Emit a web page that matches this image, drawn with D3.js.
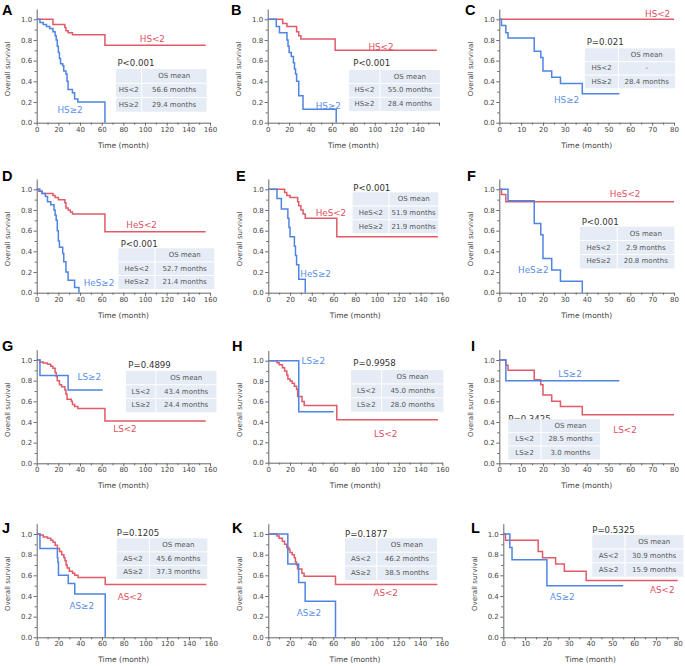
<!DOCTYPE html>
<html><head><meta charset="utf-8">
<script src="https://cdn.jsdelivr.net/npm/d3@7/dist/d3.min.js"></script>
<style>body{margin:0;background:#fff}svg{display:block}</style>
</head><body><svg id="c" width="685" height="666"></svg>
<script>
// ---------------- DATA ----------------
const panelIds = ["A","B","C","D","E","F","G","H","I","J","K","L"];
const xMaxes = [160,160,80,160,160,80,160,160,80,160,160,80];
const groupLow  = ["HS<2","HS<2","HS<2","HeS<2","HeS<2","HeS<2","LS<2","LS<2","LS<2","AS<2","AS<2","AS<2"];
const groupHigh = ["HS≥2","HS≥2","HS≥2","HeS≥2","HeS≥2","HeS≥2","LS≥2","LS≥2","LS≥2","AS≥2","AS≥2","AS≥2"];
const pValues = ["P<0.001","P<0.001","P=0.021","P<0.001","P<0.001","P<0.001","P=0.4899","P=0.9958","P=0.3425","P=0.1205","P=0.1877","P=0.5325"];
const meanLow  = ["56.6","55.0","-","52.7","51.9","2.9","43.4","45.0","28.5","45.6","46.2","30.9"];
const meanHigh = ["29.4","28.4","28.4","21.4","21.9","20.8","24.4","28.0","3.0","37.3","38.5","15.9"];
const tableHeader = "OS mean";
const yTicks = [0,0.2,0.4,0.6,0.8,1.0];

// survival curves: [time (month), survival after that time]; last point = end of follow-up
const A_low  = [[0,1],[15,0.95],[26,0.92],[27,0.89],[29,0.87],[33,0.85],[63,0.75],[156,0.75]];
const A_high = [[0,1],[3,0.97],[6,0.95],[9,0.93],[12,0.91],[15,0.88],[17,0.84],[18,0.8],[19,0.74],[20,0.68],[21,0.62],[22,0.57],[24,0.55],[25,0.5],[27,0.47],[28,0.4],[29,0.32],[33,0.29],[35,0.23],[38,0.2],[63,0]];
const B_low  = [[0,1],[14,0.96],[18,0.93],[27,0.88],[29,0.84],[31,0.81],[63,0.7],[158,0.7]];
const B_high = [[0,1],[8,0.93],[11,0.87],[18,0.8],[19,0.74],[20,0.68],[22,0.64],[24,0.58],[25,0.52],[26,0.47],[27,0.4],[29,0.26],[33,0.13],[64,0]];
const C_low  = [[0,1],[80,1]];
const C_high = [[0,1],[1,0.94],[3,0.87],[4,0.82],[16,0.69],[19,0.63],[20,0.5],[24,0.44],[28,0.38],[38,0.28],[55,0.28]];
const D_low  = [[0,1],[3,0.98],[5,0.96],[15,0.94],[17,0.92],[20,0.9],[26,0.87],[27,0.82],[29,0.8],[31,0.78],[33,0.76],[63,0.59],[156,0.59]];
const D_high = [[0,1],[2,0.98],[5,0.96],[8,0.93],[10,0.88],[13,0.85],[16,0.8],[17,0.75],[18,0.7],[19,0.6],[20,0.5],[21,0.44],[24,0.38],[25,0.3],[27,0.2],[29,0.12],[35,0.05],[39,0]];
const E_low  = [[0,1],[15,0.97],[17,0.94],[20,0.92],[27,0.88],[28,0.84],[30,0.8],[32,0.76],[34,0.72],[63,0.54],[156,0.54]];
const E_high = [[0,1],[8,0.91],[12,0.81],[18,0.72],[19,0.63],[20,0.54],[24,0.45],[25,0.36],[26,0.27],[28,0.13],[34,0]];
const F_low  = [[0,1],[1,0.95],[3,0.88],[80,0.88]];
const F_high = [[0,1],[4,0.89],[16,0.67],[19,0.56],[20,0.33],[24,0.22],[28,0.11],[38,0]];
const G_low  = [[0,1],[3,0.98],[6,0.97],[10,0.96],[13,0.94],[15,0.92],[17,0.88],[18,0.84],[19,0.8],[21,0.76],[23,0.74],[26,0.71],[27,0.67],[28,0.62],[32,0.6],[33,0.57],[35,0.55],[38,0.53],[63,0.41],[156,0.41]];
const G_high = [[0,1],[3,0.85],[29,0.71],[61,0.71]];
const H_low  = [[0,1],[8,0.98],[10,0.96],[13,0.93],[15,0.9],[17,0.86],[18,0.82],[20,0.8],[22,0.78],[24,0.75],[26,0.72],[27,0.65],[31,0.6],[33,0.56],[63,0.42],[156,0.42]];
const H_high = [[0,1],[28,0.5],[60,0.5]];
const I_low  = [[0,1],[3,0.95],[4,0.9],[16,0.81],[19,0.76],[20,0.66],[24,0.6],[28,0.55],[38,0.47],[80,0.47]];
const I_high = [[0,1],[3,0.8],[55,0.8]];
const J_low  = [[0,1],[3,0.99],[6,0.97],[10,0.96],[13,0.94],[15,0.92],[17,0.89],[19,0.86],[21,0.83],[23,0.8],[25,0.77],[26,0.74],[27,0.7],[28,0.67],[30,0.64],[33,0.62],[35,0.6],[38,0.58],[63,0.51],[156,0.51]];
const J_high = [[0,1],[3,0.86],[19,0.77],[19.5,0.73],[20,0.6],[29,0.52],[35,0.42],[63,0]];
const K_low  = [[0,1],[8,0.98],[10,0.96],[13,0.93],[15,0.9],[17,0.87],[19,0.85],[20,0.82],[22,0.8],[24,0.77],[25,0.73],[26,0.7],[27,0.66],[31,0.62],[33,0.59],[62,0.51],[156,0.51]];
const K_high = [[0,1],[18,0.71],[28,0.53],[34,0.35],[62,0]];
const L_low  = [[0,1],[1,0.94],[16,0.83],[18,0.77],[24,0.71],[28,0.64],[38,0.55],[80,0.55]];
const L_high = [[0,1],[3,0.87],[4,0.75],[20,0.5],[55,0.5]];

const curvesLow  = [A_low,B_low,C_low,D_low,E_low,F_low,G_low,H_low,I_low,J_low,K_low,L_low];
const curvesHigh = [A_high,B_high,C_high,D_high,E_high,F_high,G_high,H_high,I_high,J_high,K_high,L_high];

// ---------------- LAYOUT ----------------
// plot frames in pixels: [x at 0, x at xmax, y at 1.0, y at 0]
const frames = [
  [36.7,210,19.3,122.7],[267.7,439,19.3,122.7],[499.3,674,19.3,122.7],
  [36.7,210,189.3,292.7],[268.3,442.3,189.3,292.7],[499.3,674,189.3,292.7],
  [36.7,210,360,463.3],[268.3,442.3,360.7,462.7],[499.3,674,360,463.3],
  [36.7,210.7,534,637.3],[268.3,441.7,534,637.3],[503.3,677.7,534,637.3]
];
const letterPos = [[2,15],[231,15],[465,15],[2,181],[236,181],[467,181],[2,351],[232,351],[471,351],[2,533],[232,533],[471,533]];
// annotation anchors in data units
const lowLabelAt  = [[106.8,0.806],[105.8,0.735],[72.5,1.05],[96.9,0.655],[57.6,0.768],[57.6,0.955],[81.5,0.329],[107.9,0.281],[57.6,0.323],[85.8,0.394],[108.3,0.426],[72.9,0.458]];
const highLabelAt = [[30.8,0.123],[56.6,0.161],[30.8,0.219],[57.5,0.097],[43.5,0.181],[15.6,0.219],[48.6,0.832],[41.4,1.0],[32.4,0.865],[41.4,0.303],[37.5,0.232],[27.1,0.394]];
const pAt = [[74.5,0.574],[79.9,0.574],[40,0.784],[77.5,0.471],[78.2,1.01],[37.7,0.681],[84.6,0.952],[78.2,0.974],[4.1,0.43],[73.6,1.006],[70.8,0.997],[40.8,1.039]];
// table: [left, split, right, top, bottom]
const tableAt = [
  [73.2,96.9,156.9,0.519,0.106],[75.9,104.8,160.8,0.51,0.113],[39.2,54.5,80.5,0.719,0.332],
  [75.4,109.2,164,0.429,0.035],[77.5,111,156.3,0.971,0.574],[36.9,54,80.2,0.639,0.235],
  [82.5,110,166,0.894,0.494],[76,104.2,161,0.908,0.5],[4.1,19.1,46.1,0.426,0.039],
  [73.6,103.6,156.9,0.958,0.565],[70.8,100,155.7,0.958,0.555],[40.8,55.8,82.6,0.99,0.587]
];
const hideLastXLabel = [false,true,false,false,false,false,false,false,false,false,false,false];

const RED = "#e05a68", BLUE = "#4f84e2", RED_T = "#e0505f", BLUE_T = "#5a8fe6";
const FONT = "'DejaVu Sans', Verdana, sans-serif";

const svg = d3.select("#c");

panelIds.forEach((id, i) => {
  const [fx0, fx1, fy1, fy0] = frames[i];
  const xmax = xMaxes[i];
  const x = d3.scaleLinear().domain([0, xmax]).range([fx0, fx1]);
  const y = d3.scaleLinear().domain([0, 1]).range([fy0, fy1]);
  const yExt = d3.scaleLinear().domain([0, 1.1]).range([fy0, y(1.1)]);
  const g = svg.append("g");

  const step = xmax === 160 ? 20 : 10;
  const major = d3.range(0, xmax + 0.001, step);
  const minor = d3.range(step / 2, xmax, step);

  // x axis
  const gx = g.append("g").attr("transform", `translate(0,${fy0})`);
  gx.call(d3.axisBottom(x).tickValues(major).tickSize(3).tickSizeOuter(0)
      .tickFormat(d => (hideLastXLabel[i] && d === xmax) ? "" : d3.format("d")(d)));
  gx.append("g").call(d3.axisBottom(x).tickValues(minor).tickSize(2).tickFormat(""))
    .select(".domain").remove();
  // y axis
  const gy = g.append("g").attr("transform", `translate(${fx0},0)`);
  gy.call(d3.axisLeft(yExt).tickValues(yTicks).tickSize(3).tickSizeOuter(0).tickFormat(d3.format(".1f")));
  gy.append("g").call(d3.axisLeft(yExt).tickValues(d3.range(0.1, 1.0, 0.2)).tickSize(2).tickFormat(""))
    .select(".domain").remove();

  g.selectAll(".domain").attr("stroke", "#666").attr("stroke-width", 1);
  g.selectAll(".tick line").attr("stroke", "#666");
  g.selectAll(".tick text").attr("fill", "#444").style("font-family", FONT).style("font-size", "7px");
  gx.selectAll(".tick text").attr("dy", "0.55em").attr("y", 5);
  gy.selectAll(".tick text").attr("x", -4.5);

  // axis titles
  g.append("text").attr("x", (fx0 + fx1) / 2).attr("y", fy0 + 25)
    .attr("text-anchor", "middle").attr("fill", "#444")
    .style("font-family", FONT).style("font-size", "7.5px").text("Time (month)");
  g.append("text").attr("transform", `translate(${fx0 - 28.5},${(fy0 + fy1) / 2 - 2}) rotate(-90)`)
    .attr("text-anchor", "middle").attr("dominant-baseline", "central").attr("fill", "#444")
    .style("font-family", FONT).style("font-size", "7px").text("Overall survival");

  // panel letter
  g.append("text").attr("x", letterPos[i][0]).attr("y", letterPos[i][1])
    .attr("fill", "#000").style("font-family", "'Liberation Sans', Arial, sans-serif")
    .style("font-weight", "bold").style("font-size", "14.5px").text(id);

  // curves
  const line = d3.line().x(d => x(d[0])).y(d => y(d[1])).curve(d3.curveStepAfter);
  g.append("path").datum(curvesLow[i]).attr("d", line).attr("fill", "none")
    .attr("stroke", RED).attr("stroke-width", 1.5);
  g.append("path").datum(curvesHigh[i]).attr("d", line).attr("fill", "none")
    .attr("stroke", BLUE).attr("stroke-width", 1.5);

  // group labels
  g.append("text").attr("x", x(lowLabelAt[i][0])).attr("y", y(lowLabelAt[i][1]))
    .attr("text-anchor", "middle").attr("dominant-baseline", "central").attr("fill", RED_T)
    .style("font-family", FONT).style("font-size", "8.8px").text(groupLow[i]);
  g.append("text").attr("x", x(highLabelAt[i][0])).attr("y", y(highLabelAt[i][1]))
    .attr("text-anchor", "middle").attr("dominant-baseline", "central").attr("fill", BLUE_T)
    .style("font-family", FONT).style("font-size", "8.8px").text(groupHigh[i]);

  // p value
  g.append("text").attr("x", x(pAt[i][0])).attr("y", y(pAt[i][1]))
    .attr("dominant-baseline", "central").attr("fill", "#333")
    .style("font-family", FONT).style("font-size", "8.6px").text(pValues[i]);

  // table
  const [tl, ts, tr, tt, tb] = tableAt[i];
  const X0 = x(tl), XS = x(ts), X1 = x(tr), Y0 = y(tt), Y1 = y(tb);
  const tg = g.append("g");
  tg.append("rect").attr("x", X0).attr("y", Y0).attr("width", X1 - X0).attr("height", Y1 - Y0).attr("fill", "#e6ecf5");
  const rh = (Y1 - Y0) / 3;
  [1, 2].forEach(k => tg.append("line").attr("x1", X0).attr("x2", X1).attr("y1", Y0 + k * rh).attr("y2", Y0 + k * rh)
    .attr("stroke", "#fff").attr("stroke-width", 1));
  tg.append("line").attr("x1", XS).attr("x2", XS).attr("y1", Y0).attr("y2", Y1).attr("stroke", "#fff").attr("stroke-width", 1);
  const cells = [["", tableHeader], [groupLow[i], meanLow[i] === "-" ? "-" : meanLow[i] + " months"], [groupHigh[i], meanHigh[i] + " months"]];
  cells.forEach((row, r) => {
    row.forEach((txt, c) => {
      tg.append("text").attr("x", c === 0 ? (X0 + XS) / 2 : (XS + X1) / 2).attr("y", Y0 + rh * (r + 0.5))
        .attr("text-anchor", "middle").attr("dominant-baseline", "central").attr("fill", "#555")
        .style("font-family", FONT).style("font-size", "7px").text(txt);
    });
  });
});
</script>
</body></html>
